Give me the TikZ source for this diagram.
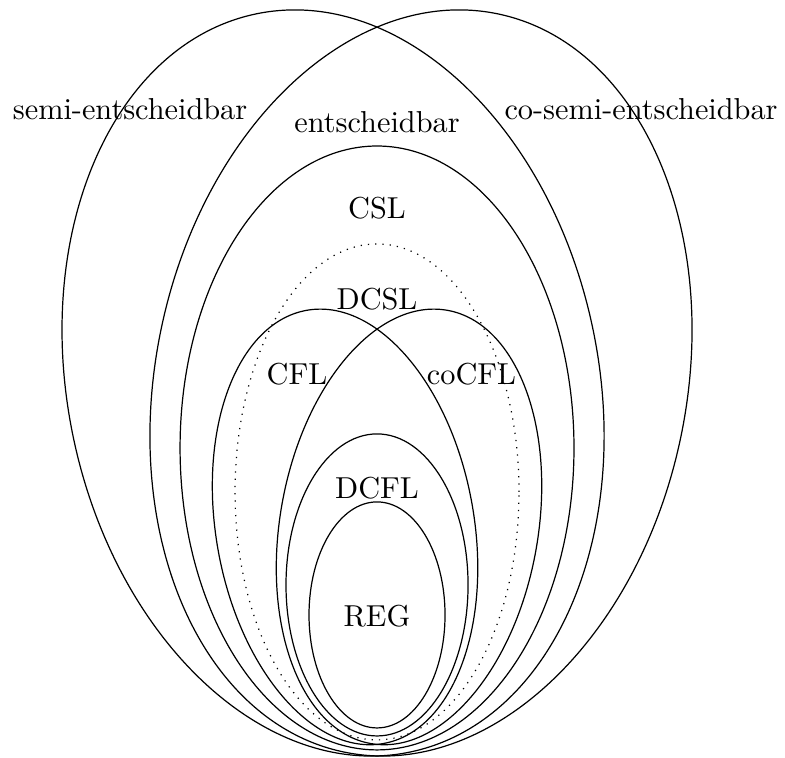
\documentclass[tikz,border=0pt]{standalone}
\usepackage{tikz}
\usetikzlibrary{positioning}
\tikzstyle{setline} = [draw=black, thin]
\tikzstyle{setlabel} = [anchor=base, inner sep=0pt]

\begin{document}
\begin{tikzpicture}
\useasboundingbox (-4.374,-0.023) rectangle (4.733,8.770);
% semi-entscheidbar / co-semi-entscheidbar
\draw[setline, rotate around={11.8:(-0.510,4.327)}] (-0.510,4.327) ellipse (3.079 and 4.374);
\draw[setline, rotate around={-11.8:(0.510,4.327)}] (0.510,4.327) ellipse (3.079 and 4.374);
% CSL, DCSL
\draw[setline] (0,3.573) ellipse (2.285 and 3.503);
\draw[setline, dotted] (0,3.063) ellipse (1.647 and 2.877);
% CFL / coCFL
\draw[setline, rotate around={10:(-0.371,2.657)}] (-0.371,2.657) ellipse (1.497 and 2.552);
\draw[setline, rotate around={-10:(0.371,2.657)}] (0.371,2.657) ellipse (1.497 and 2.552);
% DCFL, REG
\draw[setline] (0,1.984) ellipse (1.056 and 1.752);
\draw[setline] (0,1.636) ellipse (0.789 and 1.311);

% Labels
\node (semi) [setlabel] at (-2.865,7.378) {semi-entscheidbar};
\node (cosemi) [setlabel] at (3.063,7.378) {co-semi-entscheidbar};
\node (ent) [setlabel] at (0,7.227) {entscheidbar};
\node (csl) [setlabel] at (0,6.230) {CSL};
\node (dcsl) [setlabel] at (0,5.174) {DCSL};
\node (cfl) [setlabel] at (-0.928,4.304) {CFL};
\node (cocfl) [setlabel] at (1.096,4.304) {coCFL};
\node (dcfl) [setlabel] at (0,2.981) {DCFL};
\node (reg) [setlabel] at (0,1.497) {REG};
\end{tikzpicture}
\end{document}
